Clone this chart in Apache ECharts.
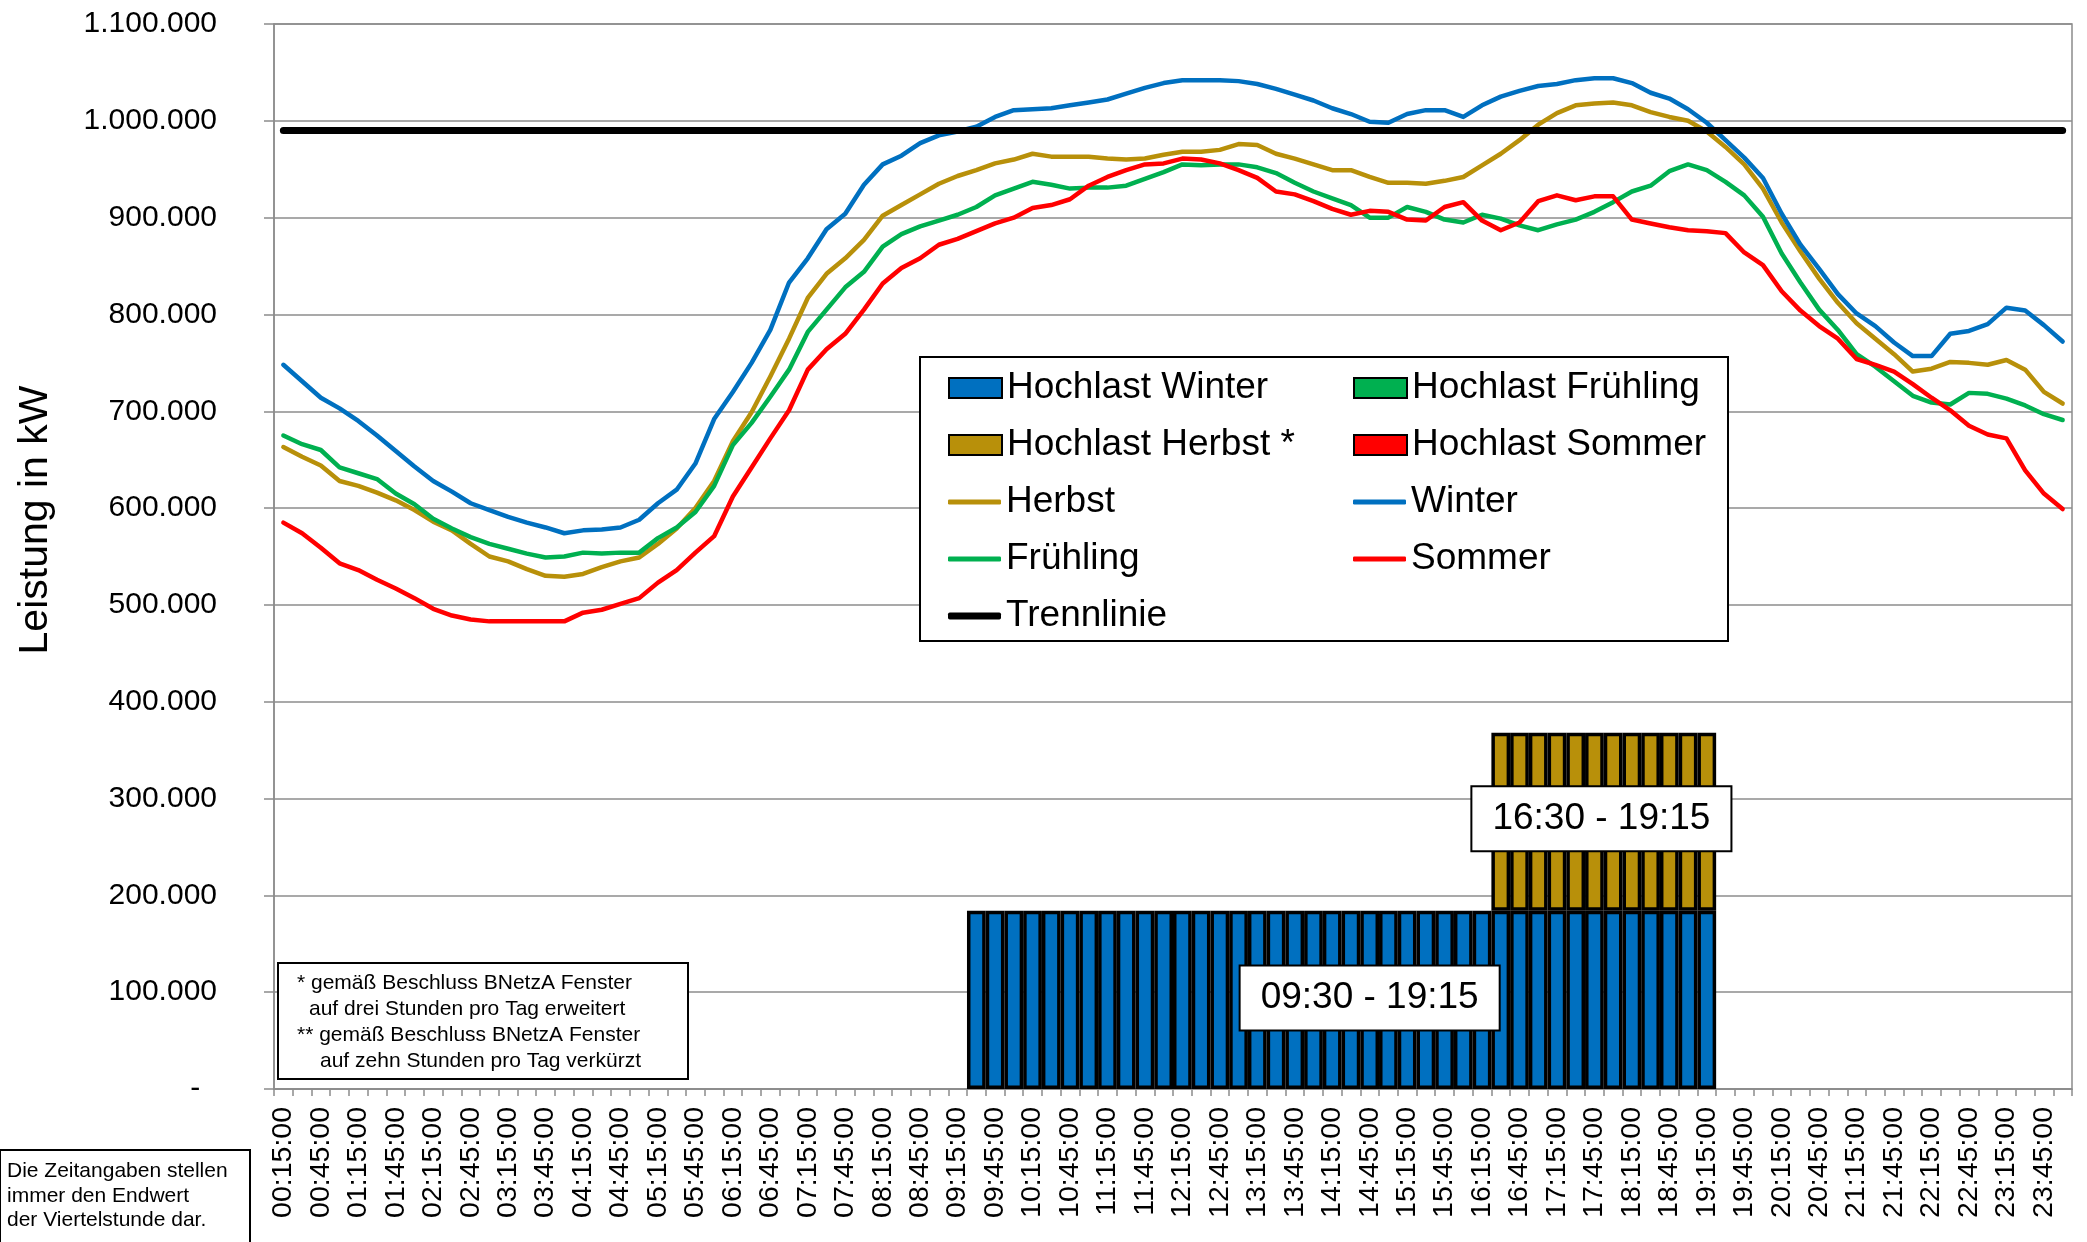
<!DOCTYPE html>
<html>
<head>
<meta charset="utf-8">
<script src="https://cdn.jsdelivr.net/npm/echarts@6/dist/echarts.min.js"></script>
<style>
html,body{margin:0;padding:0;background:#fff;}
#chart{width:2087px;height:1242px;}
</style>
</head>
<body>
<div id="chart"></div>
<script>
const FONT = '"Liberation Sans", Arial, sans-serif';

const timeLabels = [
'00:15:00','00:30:00','00:45:00','01:00:00','01:15:00','01:30:00','01:45:00','02:00:00',
'02:15:00','02:30:00','02:45:00','03:00:00','03:15:00','03:30:00','03:45:00','04:00:00',
'04:15:00','04:30:00','04:45:00','05:00:00','05:15:00','05:30:00','05:45:00','06:00:00',
'06:15:00','06:30:00','06:45:00','07:00:00','07:15:00','07:30:00','07:45:00','08:00:00',
'08:15:00','08:30:00','08:45:00','09:00:00','09:15:00','09:30:00','09:45:00','10:00:00',
'10:15:00','10:30:00','10:45:00','11:00:00','11:15:00','11:30:00','11:45:00','12:00:00',
'12:15:00','12:30:00','12:45:00','13:00:00','13:15:00','13:30:00','13:45:00','14:00:00',
'14:15:00','14:30:00','14:45:00','15:00:00','15:15:00','15:30:00','15:45:00','16:00:00',
'16:15:00','16:30:00','16:45:00','17:00:00','17:15:00','17:30:00','17:45:00','18:00:00',
'18:15:00','18:30:00','18:45:00','19:00:00','19:15:00','19:30:00','19:45:00','20:00:00',
'20:15:00','20:30:00','20:45:00','21:00:00','21:15:00','21:30:00','21:45:00','22:00:00',
'22:15:00','22:30:00','22:45:00','23:00:00','23:15:00','23:30:00','23:45:00','00:00:00'
];

// Load curves in kW (96 quarter hours)
const winter = [
748000,731000,714000,703000,690000,675000,659000,643000,628000,617000,605000,598000,591000,585000,580000,574000,
577000,578000,580000,588000,605000,619000,646000,692000,720000,750000,784000,833000,858000,888000,904000,934000,
955000,964000,977000,985000,989000,994000,1004000,1011000,1012000,1013000,1016000,1019000,1022000,1028000,1034000,1039000,
1042000,1042000,1042000,1041000,1038000,1033000,1027000,1021000,1013000,1007000,999000,998000,1007000,1011000,1011000,1004000,
1016000,1025000,1031000,1036000,1038000,1042000,1044000,1044000,1039000,1029000,1023000,1012000,998000,980000,962000,941000,
904000,872000,847000,821000,801000,788000,771000,757000,757000,780000,783000,790000,807000,804000,789000,772000
];
const herbst = [
663000,653000,644000,628000,623000,616000,608000,598000,586000,577000,563000,550000,545000,537000,530000,529000,
532000,539000,545000,549000,563000,579000,600000,628000,669000,699000,736000,775000,817000,842000,858000,877000,
902000,913000,924000,935000,943000,949000,956000,960000,966000,963000,963000,963000,961000,960000,961000,965000,
968000,968000,970000,976000,975000,966000,961000,955000,949000,949000,942000,936000,936000,935000,938000,942000,
954000,966000,980000,996000,1008000,1016000,1018000,1019000,1016000,1009000,1004000,1000000,989000,973000,955000,930000,
895000,865000,837000,812000,791000,775000,759000,741000,744000,751000,750000,748000,753000,743000,720000,708000
];
const fruehling = [
675000,666000,660000,642000,636000,630000,615000,604000,589000,579000,570000,563000,558000,553000,549000,550000,
554000,553000,554000,554000,569000,580000,596000,623000,665000,688000,715000,743000,782000,805000,828000,844000,
870000,883000,891000,897000,903000,911000,923000,930000,937000,934000,930000,931000,931000,933000,940000,947000,
955000,954000,955000,955000,952000,946000,936000,927000,920000,913000,900000,900000,911000,906000,898000,895000,
903000,899000,892000,887000,893000,898000,906000,916000,927000,933000,948000,955000,949000,937000,923000,901000,
863000,833000,805000,784000,759000,746000,731000,716000,709000,707000,719000,718000,713000,706000,697000,691000
];
const sommer = [
585000,574000,559000,543000,536000,526000,517000,507000,496000,489000,485000,483000,483000,483000,483000,483000,
492000,495000,501000,507000,523000,536000,554000,571000,612000,642000,672000,701000,743000,764000,780000,805000,
832000,848000,858000,872000,878000,886000,894000,900000,910000,913000,919000,933000,942000,949000,955000,956000,
961000,960000,956000,949000,941000,927000,924000,917000,909000,903000,907000,906000,898000,897000,911000,916000,
897000,887000,895000,917000,923000,918000,922000,922000,898000,894000,890000,887000,886000,884000,864000,851000,
824000,804000,788000,775000,754000,748000,741000,728000,714000,701000,685000,676000,672000,639000,615000,599000
];
const trennlinie = 990000;

// Hochlast windows (bars), kW
const hochlastWinter = [
null,null,null,null,null,null,null,null,null,null,null,null,null,null,null,null,
null,null,null,null,null,null,null,null,null,null,null,null,null,null,null,null,
null,null,null,null,null,184000,184000,184000,184000,184000,184000,184000,184000,184000,184000,184000,
184000,184000,184000,184000,184000,184000,184000,184000,184000,184000,184000,184000,184000,184000,184000,184000,
184000,184000,184000,184000,184000,184000,184000,184000,184000,184000,184000,184000,184000,null,null,null,
null,null,null,null,null,null,null,null,null,null,null,null,null,null,null,null
];
const hochlastHerbst = [
null,null,null,null,null,null,null,null,null,null,null,null,null,null,null,null,
null,null,null,null,null,null,null,null,null,null,null,null,null,null,null,null,
null,null,null,null,null,null,null,null,null,null,null,null,null,null,null,null,
null,null,null,null,null,null,null,null,null,null,null,null,null,null,null,null,
null,184000,184000,184000,184000,184000,184000,184000,184000,184000,184000,184000,184000,null,null,null,
null,null,null,null,null,null,null,null,null,null,null,null,null,null,null,null
];
const hochlastFruehling = [];
const hochlastSommer = [];

const labelWinterText = '09:30 - 19:15';
const labelHerbstText = '16:30 - 19:15';
const labelWinterIndex = 58;
const labelHerbstIndex = 70;

const yTicks = { min: 0, max: 1100000, interval: 100000 };

const C = { blue:'#0070C0', gold:'#B8900A', green:'#00B050', red:'#FF0000', black:'#000000', grid:'#8C8C8C' };

function fmt(v){ return v === 0 ? '-  ' : String(v).replace(/\B(?=(\d{3})+(?!\d))/g, '.'); }

const boxLabel = {
  show: true, position: 'inside', fontSize: 37, fontFamily: FONT, color: '#000',
  backgroundColor: '#fff', borderColor: '#000', borderWidth: 2,
  padding: [11, 20, 10, 20], lineHeight: 42
};

const chart = echarts.init(document.getElementById('chart'), null, {renderer:'canvas'});

const legendText = { fontSize: 37, lineHeight: 40, color: '#000', fontFamily: FONT };
function legendBlock(names, left, top, icon, h){
  return { data: names.map(n => ({ name: n, icon: icon })), orient: 'vertical', left: left, top: top,
    itemWidth: 53, itemHeight: h, itemGap: 17, padding: 0, textStyle: legendText, z: 10, selectedMode: false };
}

const option = {
  animation: false,
  backgroundColor: '#fff',
  textStyle: { fontFamily: FONT },
  grid: { left: 274, right: 15, top: 24, bottom: 153, show: true, borderColor: C.grid, borderWidth: 1.5, backgroundColor: 'transparent' },
  legend: [
    legendBlock(['Hochlast Winter', 'Hochlast Herbst *'], 948, 368, 'rect', 20),
    legendBlock(['Herbst', 'Frühling'], 948, 482, 'roundRect', 5),
    legendBlock(['Trennlinie'], 948, 596, 'roundRect', 7),
    legendBlock(['Hochlast Frühling', 'Hochlast Sommer'], 1353, 368, 'rect', 20),
    legendBlock(['Winter', 'Sommer'], 1353, 482, 'roundRect', 5)
  ],
  xAxis: {
    type: 'category', data: timeLabels, boundaryGap: true,
    axisLine: { lineStyle: { color: C.grid, width: 1.5 } },
    axisTick: { show: true, interval: 0, length: 7, lineStyle: { color: C.grid, width: 1.5 } },
    axisLabel: { interval: 1, rotate: 90, fontSize: 28.5, color: '#000', margin: 18, fontFamily: FONT },
    splitLine: { show: false }
  },
  yAxis: {
    type: 'value', min: yTicks.min, max: yTicks.max, interval: yTicks.interval,
    axisLine: { show: true, lineStyle: { color: C.grid, width: 1.5 } },
    axisTick: { show: true, length: 10, lineStyle: { color: C.grid, width: 1.5 } },
    axisLabel: { formatter: fmt, fontSize: 30, color: '#000', margin: 57, fontFamily: FONT },
    splitLine: { show: true, lineStyle: { color: C.grid, width: 1.5 } }
  },
  series: [
    { name: 'Hochlast Winter', type: 'bar', stack: 'h', barCategoryGap: '0%',
      itemStyle: { color: C.blue, borderColor: '#000', borderWidth: 3.5 },
      data: hochlastWinter.map((v, i) => i === labelWinterIndex ? { value: v, label: Object.assign({}, boxLabel, { formatter: labelWinterText, offset: [0, -2] }) } : v) },
    { name: 'Hochlast Frühling', type: 'bar', stack: 'h',
      itemStyle: { color: C.green, borderColor: '#000', borderWidth: 3 }, data: hochlastFruehling },
    { name: 'Hochlast Herbst *', type: 'bar', stack: 'h',
      itemStyle: { color: C.gold, borderColor: '#000', borderWidth: 3.5 },
      data: hochlastHerbst.map((v, i) => i === labelHerbstIndex ? { value: v, label: Object.assign({}, boxLabel, { formatter: labelHerbstText, offset: [7, -3] }) } : v) },
    { name: 'Hochlast Sommer', type: 'bar', stack: 'h',
      itemStyle: { color: C.red, borderColor: '#000', borderWidth: 3 }, data: hochlastSommer },
    { name: 'Herbst', type: 'line', symbol: 'none', data: herbst, itemStyle: { color: C.gold },
      lineStyle: { color: C.gold, width: 4.5, cap: 'round', join: 'round' } },
    { name: 'Winter', type: 'line', symbol: 'none', data: winter, itemStyle: { color: C.blue },
      lineStyle: { color: C.blue, width: 4.5, cap: 'round', join: 'round' } },
    { name: 'Frühling', type: 'line', symbol: 'none', data: fruehling, itemStyle: { color: C.green },
      lineStyle: { color: C.green, width: 4.5, cap: 'round', join: 'round' } },
    { name: 'Sommer', type: 'line', symbol: 'none', data: sommer, itemStyle: { color: C.red },
      lineStyle: { color: C.red, width: 4.5, cap: 'round', join: 'round' } },
    { name: 'Trennlinie', type: 'line', symbol: 'none', itemStyle: { color: C.black },
      lineStyle: { color: C.black, width: 7, cap: 'round' },
      data: [[timeLabels[0], trennlinie], [timeLabels[timeLabels.length - 1], trennlinie]] }
  ],
  graphic: [
    { type: 'rect', z: 3, shape: { x: 920, y: 357, width: 808, height: 284 },
      style: { fill: '#fff', stroke: '#000', lineWidth: 2 } },
    { type: 'rect', z: 3, shape: { x: 278, y: 963, width: 410, height: 116 },
      style: { fill: '#fff', stroke: '#000', lineWidth: 2 } },
    { type: 'text', z: 4, x: 297, y: 983, style: { text: '* gemäß Beschluss BNetzA Fenster', font: '21px ' + FONT, fill: '#000', verticalAlign: 'middle', textVerticalAlign: 'middle' } },
    { type: 'text', z: 4, x: 309, y: 1009, style: { text: 'auf drei Stunden pro Tag erweitert', font: '21px ' + FONT, fill: '#000', verticalAlign: 'middle', textVerticalAlign: 'middle' } },
    { type: 'text', z: 4, x: 297, y: 1035, style: { text: '** gemäß Beschluss BNetzA Fenster', font: '21px ' + FONT, fill: '#000', verticalAlign: 'middle', textVerticalAlign: 'middle' } },
    { type: 'text', z: 4, x: 320, y: 1061, style: { text: 'auf zehn Stunden pro Tag verkürzt', font: '21px ' + FONT, fill: '#000', verticalAlign: 'middle', textVerticalAlign: 'middle' } },
    { type: 'rect', z: 3, shape: { x: 0, y: 1150, width: 250, height: 100 },
      style: { fill: '#fff', stroke: '#000', lineWidth: 2 } },
    { type: 'text', z: 4, x: 7, y: 1171, style: { text: 'Die Zeitangaben stellen', font: '21px ' + FONT, fill: '#000', verticalAlign: 'middle', textVerticalAlign: 'middle' } },
    { type: 'text', z: 4, x: 7, y: 1196, style: { text: 'immer den Endwert', font: '21px ' + FONT, fill: '#000', verticalAlign: 'middle', textVerticalAlign: 'middle' } },
    { type: 'text', z: 4, x: 7, y: 1220, style: { text: 'der Viertelstunde dar.', font: '21px ' + FONT, fill: '#000', verticalAlign: 'middle', textVerticalAlign: 'middle' } },
    { type: 'text', z: 4, x: 36, y: 520, rotation: Math.PI / 2,
      style: { text: 'Leistung in kW', font: '41px ' + FONT, fill: '#000', align: 'center', textAlign: 'center', verticalAlign: 'middle', textVerticalAlign: 'middle' } }
  ]
};

chart.setOption(option);
</script>
</body>
</html>
